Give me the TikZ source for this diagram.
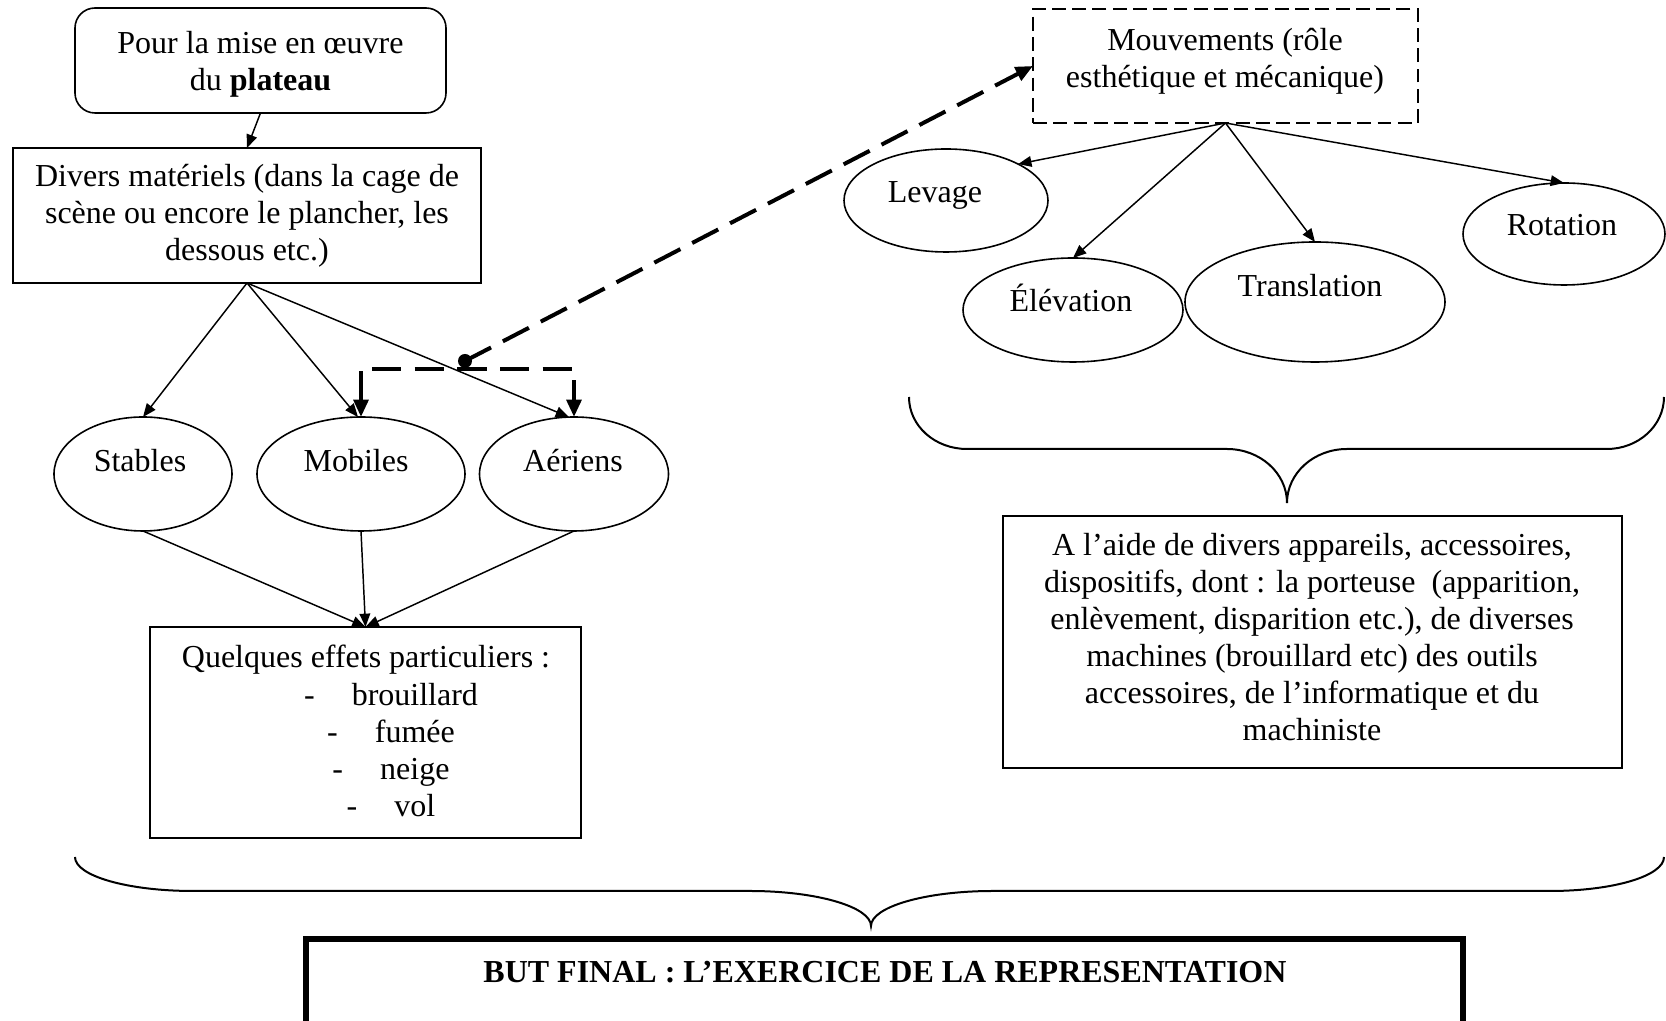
\documentclass[tikz,border=0pt]{standalone}
\usepackage{fontspec}
\setmainfont{Liberation Serif}
\usetikzlibrary{arrows.meta,shapes.geometric}
\def\pxu{0.375pt}
\tikzset{
  txtfont/.style={font=\fontsize{12pt}{13.9pt}\selectfont},
  boxnode/.style={draw, line width=0.6pt, rectangle, inner sep=0pt, outer sep=0pt},
  ellnode/.style={draw, line width=0.6pt, ellipse, inner sep=0pt, outer sep=0pt},
  txtnode/.style={align=center, inner sep=0pt},
  arr/.style={line width=0.55pt, -{Triangle[length=5pt,width=4pt]}},
  darr/.style={line width=1.5pt, dash pattern=on 11pt off 5pt, -{Triangle[length=6.5pt,width=5.5pt]}},
  dbiarr/.style={line width=1.5pt, dash pattern=on 11pt off 5pt, {Triangle[length=6.5pt,width=5.5pt]}-{Triangle[length=6.5pt,width=5.5pt]}},
  dashbox/.style={dash pattern=on 5.2pt off 2.4pt},
  bracepath/.style={line width=0.75pt}
}
\begin{document}
\begin{tikzpicture}[x=0.375pt,y=-0.375pt, every node/.style={txtfont}]
\useasboundingbox (0,0) rectangle (1666,1021);

% left part
\node[boxnode, rounded corners=7.5pt, minimum width=371*\pxu, minimum height=105*\pxu] (plat) at (260.5,60.5) {};
\node[txtnode] (platT) at (260.5,64) {Pour la mise en œuvre\\du \textbf{plateau}};

\node[boxnode, minimum width=468*\pxu, minimum height=135*\pxu, align=center] (mat) at (247,215.5)
  {Divers matériels (dans la cage de\\scène ou encore le plancher, les\\dessous etc.)};

\node[ellnode, minimum width=178*\pxu, minimum height=114*\pxu] (stab) at (143,474) {};
\node[txtnode] (stabT) at (140,461) {Stables};
\node[ellnode, minimum width=208*\pxu, minimum height=114*\pxu] (mob) at (361,474) {};
\node[txtnode] (mobT) at (356,461) {Mobiles};
\node[ellnode, minimum width=189*\pxu, minimum height=114*\pxu] (aer) at (574,474) {};
\node[txtnode] (aerT) at (573,461) {Aériens};

\node[boxnode, minimum width=431*\pxu, minimum height=211*\pxu] (eff) at (365.5,732.5) {};
\node[txtnode] (effT) at (366,660) {Quelques effets particuliers :};
\node[txtnode] (effL) at (391,750) {-\hspace{13.9pt}brouillard\\-\hspace{13.9pt}fumée\\-\hspace{13.9pt}neige\\-\hspace{13.9pt}vol};

\node[circle, fill, inner sep=0pt, outer sep=0pt, minimum size=14*\pxu] (dot) at (465,361) {};

% right part
\node[boxnode, dashbox, minimum width=385*\pxu, minimum height=114*\pxu] (mouv) at (1225.5,66) {};
\node[txtnode] (mouvT) at (1225,61) {Mouvements (rôle\\esthétique et mécanique)};

\node[ellnode, minimum width=204*\pxu, minimum height=103*\pxu] (lev) at (946,200.5) {};
\node[txtnode] (levT) at (935,195) {Levage};
\node[ellnode, minimum width=220*\pxu, minimum height=104*\pxu] (elev) at (1073,310) {};
\node[txtnode] (elevT) at (1071,298) {Élévation};
\node[ellnode, minimum width=260*\pxu, minimum height=120*\pxu] (trans) at (1315,302) {};
\node[txtnode] (transT) at (1310,286) {Translation};
\node[ellnode, minimum width=202*\pxu, minimum height=102*\pxu] (rot) at (1564,234) {};
\node[txtnode] (rotT) at (1562,225) {Rotation};

\node[boxnode, minimum width=619*\pxu, minimum height=252*\pxu] (aide) at (1312.5,642) {};
\node[txtnode] (aideT) at (1312,637) {A l’aide de divers appareils, accessoires,\\dispositifs, dont : la porteuse\ \ (apparition,\\enlèvement, disparition etc.), de diverses\\machines (brouillard etc) des outils\\accessoires, de l’informatique et du\\machiniste};

% bottom
\node[boxnode, line width=2.1pt, minimum width=1157*\pxu, minimum height=200*\pxu] (but) at (884.5,1039) {};
\node[txtnode] (butT) at (885,972) {\textbf{BUT FINAL : L’EXERCICE DE LA REPRESENTATION}};

% connectors
\draw[arr] (plat.south) -- (mat.north);
\draw[arr] (mat.south) -- (stab.north);
\draw[arr] (mat.south) -- (mob.93);
\draw[arr] (mat.south) -- (aer.95);
\draw[arr] (stab.south) -- (eff.north);
\draw[arr] (mob.south) -- (eff.north);
\draw[arr] (aer.south) -- (eff.north);
\draw[dbiarr] (mob.north) -- ++(0,-48) -| (aer.north);
\draw[darr] (dot.center) -- (mouv.west);
\draw[arr] (mouv.south) -- (lev.north east);
\draw[arr] (mouv.south) -- (elev.north);
\draw[arr] (mouv.south) -- (trans.north);
\draw[arr] (mouv.south) -- (rot.north);

% braces
\draw[bracepath] (909,397) .. controls (909,426) and (935,449) .. (967,449) -- (1227,449)
  .. controls (1260,449) and (1287,473) .. (1287,503)
  .. controls (1287,473) and (1314,449) .. (1347,449) -- (1607,449)
  .. controls (1638,449) and (1664,426) .. (1664,397);
\draw[bracepath] (75,857) .. controls (75,876) and (128,891) .. (193,891) -- (750,891)
  .. controls (817,891) and (871,907) .. (871,926)
  .. controls (871,907) and (925,891) .. (993,891) -- (1550,891)
  .. controls (1613,891) and (1664,876) .. (1664,857);
\end{tikzpicture}
\end{document}
